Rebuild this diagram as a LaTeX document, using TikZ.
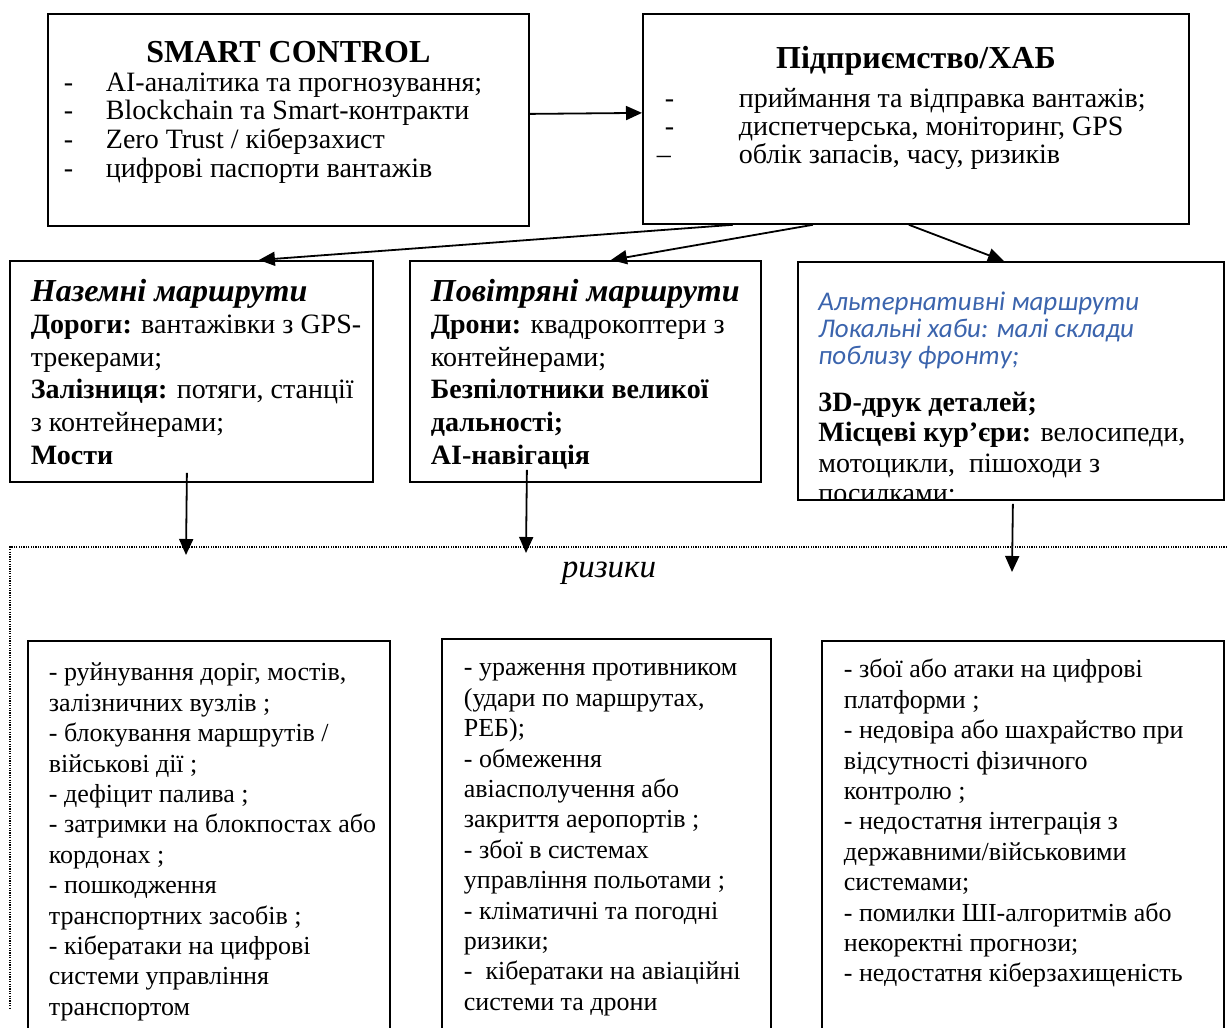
\documentclass[tikz,border=0pt]{standalone}
\usepackage{fontspec}
\setmainfont{Liberation Serif}
\newfontfamily\calibrifont{Carlito}
\usepackage{xcolor}
\usetikzlibrary{arrows.meta}

\definecolor{altblue}{HTML}{3B64AD}
\newcommand{\topln}{\rule{0pt}{10pt}}
\newcommand{\dsh}[2][21pt]{\makebox[#1][l]{#2}}
\newcommand{\padl}[1]{\raggedright\leftskip=#1\relax}
\newcommand{\riskfont}{\fontsize{13}{15.2}\selectfont}

\begin{document}
\begin{tikzpicture}[
  x=0.5pt, y=-0.5pt,
  blk/.style={rectangle, draw=black, line width=0.9pt, anchor=north west, inner xsep=0pt},
  arr/.style={-{Triangle[length=8pt,width=7pt]}, line width=0.9pt},
  riskln/.style={line width=0.7pt, dash pattern=on 0.6pt off 0.6pt}
]
\useasboundingbox (0,0) rectangle (1227,1028);
\clip (0,0) rectangle (1227,1028);

% Row 1: SMART CONTROL -> Підприємство/ХАБ
\node[blk, inner ysep=13.75pt] (smart) at (47,13)
  {\parbox[c][78.5pt][t]{240.5pt}{%
    {\centering\fontsize{16}{16}\selectfont\bfseries\topln SMART CONTROL\par}
    \fontsize{14}{14.35}\selectfont\padl{8pt}
    \dsh{-}AI-аналітика та прогнозування;\\
    \dsh{-}Blockchain та Smart-контракти\\
    \dsh{-}Zero Trust / кіберзахист\\
    \dsh{-}цифрові паспорти вантажів}};
\node[blk, inner ysep=16.25pt] (hub) at (642,13)
  {\parbox[c][72.5pt][t]{273pt}{%
    {\centering\fontsize{16}{16}\selectfont\bfseries\topln Підприємство/ХАБ\par}
    \vspace{5.25pt}
    \fontsize{14}{14}\selectfont\padl{11pt}
    \dsh[37pt]{-}приймання та відправка вантажів;\\
    \dsh[37pt]{-}диспетчерська, моніторинг, GPS\\
    \dsh[37pt]{\hspace{-4pt}–}облік запасів, часу, ризиків}};

% Row 2: routes
\node[blk, inner ysep=9pt] (ground) at (9,260)
  {\parbox[c][92.5pt][t]{181.5pt}{\padl{10.5pt}
    {\fontsize{16}{16}\selectfont\bfseries\itshape\topln Наземні маршрути\par}
    \fontsize{14}{16.3}\selectfont
    \textbf{Дороги:} вантажівки з GPS-\\
    трекерами;\\
    \textbf{Залізниця:} потяги, станції\\
    з контейнерами;\\
    \textbf{Мости}}};
\node[blk, inner ysep=9pt] (air) at (409,260)
  {\parbox[c][92.5pt][t]{175.5pt}{\padl{10.5pt}
    {\fontsize{16}{16}\selectfont\bfseries\itshape\topln Повітряні маршрути\par}
    \fontsize{14}{16.3}\selectfont
    \textbf{Дрони:} квадрокоптери з\\
    контейнерами;\\
    \textbf{Безпілотники великої}\\
    \textbf{дальності;}\\
    \textbf{AI-навігація}}};
\node[blk, inner sep=0pt, minimum width=213pt, minimum height=119pt] (alt) at (797,261) {};
\begin{scope}
  \clip (alt.north west) rectangle (alt.south east);
  \node[anchor=north west, inner xsep=0pt, inner ysep=14.5pt] (alttext) at (alt.north west)
    {\parbox[t]{213pt}{\padl{10.5pt}
      {\calibrifont\itshape\fontsize{13.5}{13.4}\selectfont\color{altblue}\topln
       Альтернативні маршрути\\
       Локальні хаби: малі склади\\
       поблизу фронту;\par}
      \vspace{8.5pt}
      \fontsize{14}{15.2}\selectfont
      \textbf{3D-друк деталей;}\\
      \textbf{Місцеві кур’єри:} велосипеди,\\
      мотоцикли, \ пішоходи з\\
      посилками;}};
\end{scope}

% Arrows from the hub
\draw[arr] ([yshift=3pt]smart.east) -- ([yshift=3pt]hub.west);
\draw[arr] ([xshift=-91.5pt]hub.south) -- ([xshift=33.75pt]ground.north);
\draw[arr] ([xshift=-51.5pt]hub.south) -- ([xshift=12.75pt]air.north);
\draw[arr] ([xshift=-3.5pt]hub.south) -- ([xshift=-3.5pt]alt.north);

% Risk area
\coordinate (rtr) at (1227,547);
\coordinate (rtl) at (10,547);
\coordinate (rbl) at (10,1008);
\draw[riskln] (rtr) -- (rtl) -- (rbl);
\node[anchor=base, font=\fontsize{16.5}{16.5}\selectfont\itshape] (risks) at (609,577) {ризики};

\coordinate (gndend) at (186,555);
\coordinate (airend) at (526,553);
\coordinate (altend) at (1012,572);
\draw[arr] ([xshift=-2.25pt,yshift=5pt]ground.south) -- (gndend);
\draw[arr] ([xshift=-29.25pt,yshift=6.5pt]air.south) -- (airend);
\draw[arr] ([xshift=1pt,yshift=-1.5pt]alt.south) -- (altend);

% Row 3: risks
\node[blk, inner ysep=10pt] (gndrisk) at (27,640)
  {\parbox[c][185pt][t]{181pt}{\riskfont\padl{10.5pt}\topln
    - руйнування доріг, мостів,\\
    залізничних вузлів ;\\
    - блокування маршрутів /\\
    військові дії ;\\
    - дефіцит палива ;\\
    - затримки на блокпостах або\\
    кордонах ;\\
    - пошкодження\\
    транспортних засобів ;\\
    - кібератаки на цифрові\\
    системи управління\\
    транспортом}};
\node[blk, inner ysep=8.5pt] (airrisk) at (441,638)
  {\parbox[c][189pt][t]{164.5pt}{\riskfont\padl{11pt}\topln
    - ураження противником\\
    (удари по маршрутах,\\
    РЕБ);\\
    - обмеження\\
    авіасполучення або\\
    закриття аеропортів ;\\
    - збої в системах\\
    управління польотами ;\\
    - кліматичні та погодні\\
    ризики;\\
    - \ кібератаки на авіаційні\\
    системи та дрони}};
\node[blk, inner ysep=8.5pt] (altrisk) at (821,640)
  {\parbox[c][188pt][t]{201pt}{\riskfont\padl{11pt}\topln
    - збої або атаки на цифрові\\
    платформи ;\\
    - недовіра або шахрайство при\\
    відсутності фізичного\\
    контролю ;\\
    - недостатня інтеграція з\\
    державними/військовими\\
    системами;\\
    - помилки ШІ-алгоритмів або\\
    некоректні прогнози;\\
    - недостатня кіберзахищеність}};

\end{tikzpicture}
\end{document}
